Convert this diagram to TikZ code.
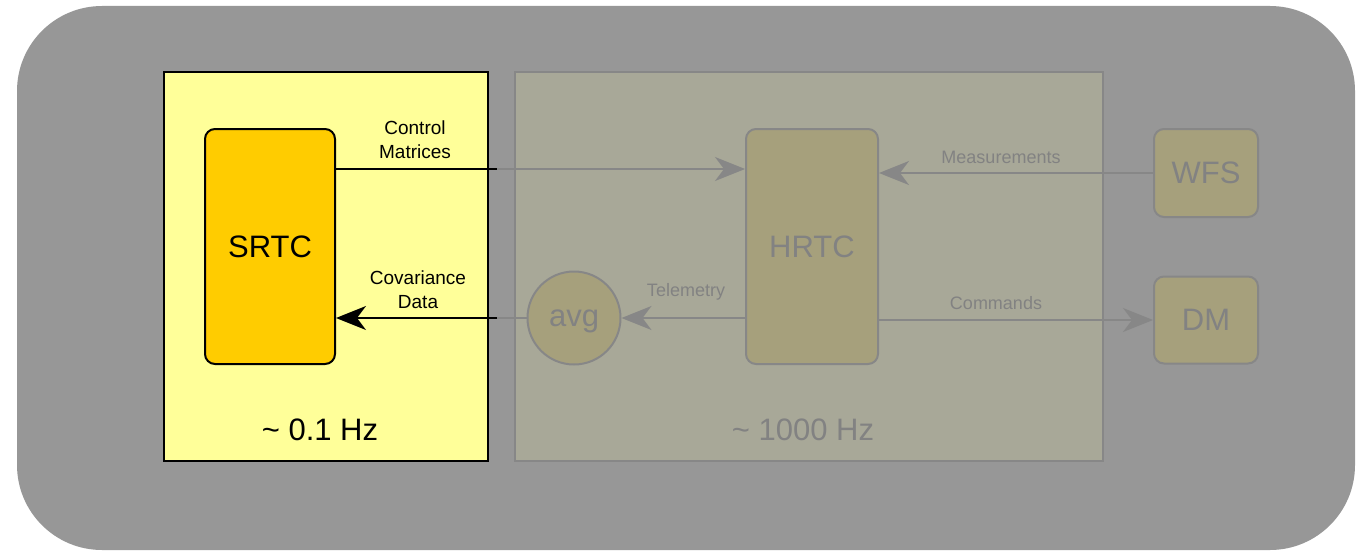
\documentclass[tikz,border=0pt]{standalone}
\usepackage{fontspec}
\setmainfont{Liberation Sans}
\usetikzlibrary{arrows.meta}
\definecolor{bggrey}{HTML}{979797}
\definecolor{lightyel}{HTML}{FFFF99}
\definecolor{srtcfill}{HTML}{FFCC00}
\definecolor{hregion}{HTML}{A8A898}
\definecolor{hnode}{HTML}{A6A07C}
\definecolor{dimline}{HTML}{878787}
\definecolor{dimtext}{HTML}{828282}
\tikzset{
  tip/.style={-{Stealth[length=30pt,width=24pt,inset=9pt]}},
  darkbox/.style={draw=black, line width=2pt, rounded corners=10pt, fill=srtcfill, inner sep=0pt},
  dimbox/.style={draw=dimline, line width=2pt, rounded corners=10pt, fill=hnode, inner sep=0pt, text=dimtext},
  darkline/.style={draw=black, line width=2pt},
  dimconn/.style={draw=dimline, line width=2pt},
  lbl/.style={font=\fontsize{19}{24}\selectfont, align=center, inner sep=0pt},
  dimlbl/.style={font=\fontsize{18}{22}\selectfont, text=dimtext, inner sep=0pt},
  big/.style={font=\fontsize{31}{36}\selectfont},
}
\begin{document}
\begin{tikzpicture}[x=1pt,y=-1pt]
\useasboundingbox (0,0) rectangle (1365,551);
% background
\fill[bggrey, rounded corners=85pt] (17,6) rectangle (1355,550);
% frames
\node[draw=black, line width=2pt, fill=lightyel, minimum width=324pt, minimum height=389pt, inner sep=0pt] (slow) at (326,266.5) {};
\node[draw=dimline, line width=2pt, fill=hregion, minimum width=588pt, minimum height=389pt, inner sep=0pt] (fast) at (809,266.5) {};
% nodes
\node[darkbox, minimum width=130pt, minimum height=235pt, big] (srtc) at (270,246.5) {SRTC};
\node[dimbox, minimum width=132pt, minimum height=235pt, big] (hrtc) at (812,246.5) {HRTC};
\node[draw=dimline, line width=2pt, fill=hnode, circle, minimum size=93pt, inner sep=0pt, text=dimtext, text depth=0pt, big] (avg) at (574,318) {avg};
\node[dimbox, minimum width=104pt, minimum height=88pt, big] (wfs) at (1206,173) {WFS};
\node[dimbox, minimum width=104pt, minimum height=87pt, big] (dm) at (1206,320) {DM};
% frequency labels
\node[big, inner sep=0pt] (f1) at (320,430) {\textasciitilde\ 0.1 Hz};
\node[big, inner sep=0pt, text=dimtext] (f2) at (803,430) {\textasciitilde\ 1000 Hz};
% junction coordinates
\coordinate (cmj) at (497,169);
\coordinate (cvj) at (497,318);
% Control Matrices
\draw[darkline] (srtc.east |- cmj) -- (cmj);
\draw[dimconn, tip, draw=dimline, fill=dimline] (cmj) -- (hrtc.west |- cmj);
\node[lbl] (cmlbl) at (415,140) {Control\\Matrices};
% Covariance Data
\draw[dimconn] (avg.west) -- (cvj);
\draw[darkline, tip] (cvj) -- (srtc.east |- cvj);
\node[lbl] (cvlbl) at (418,290) {Covariance\\Data};
% Telemetry
\draw[dimconn, tip] (hrtc.west |- avg) -- (avg.east);
\node[dimlbl] (tlbl) at (686,292) {Telemetry};
% Measurements
\draw[dimconn, tip] (wfs.west) -- (hrtc.east |- wfs);
\node[dimlbl] (mlbl) at (1001,157) {Measurements};
% Commands
\draw[dimconn, tip] (hrtc.east |- dm) -- (dm.west);
\node[dimlbl] (clbl) at (996,303) {Commands};
\end{tikzpicture}
\end{document}
